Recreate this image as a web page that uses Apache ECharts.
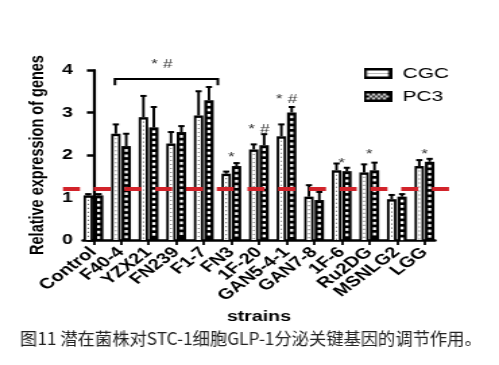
<!DOCTYPE html>
<html>
<head>
<meta charset="utf-8">
<script src="https://cdn.jsdelivr.net/npm/echarts@6/dist/echarts.min.js"></script>
<style>
html,body{margin:0;padding:0;background:#fff;}
#wrap{width:499px;height:365px;overflow:hidden;position:relative;}
#chart{width:370px;height:365px;transform-origin:0 0;}
</style>
</head>
<body>
<div id="wrap"><div id="chart"></div></div>
<script>
// ---- data ----
const categories = ['Control','F40-4','YZX21','FN239','F1-7','FN3','1F-20','GAN5-4-1','GAN7-8','1F-6','Ru2DG','MSNLG2','LGG'];
const cgcMean = [1.05, 2.50, 2.89, 2.27, 2.93, 1.56, 2.13, 2.44, 1.02, 1.64, 1.59, 0.96, 1.74];
const cgcErrTop = [1.08, 2.72, 3.39, 2.54, 3.50, 1.61, 2.25, 2.72, 1.29, 1.80, 1.78, 1.06, 1.88];
const pc3Mean = [1.05, 2.21, 2.65, 2.54, 3.29, 1.74, 2.23, 3.00, 0.94, 1.62, 1.64, 1.02, 1.84];
const pc3ErrTop = [1.08, 2.50, 3.13, 2.68, 3.60, 1.81, 2.49, 3.13, 1.13, 1.70, 1.82, 1.08, 1.91];
const threshold = 1.2;
const yTicks = [0, 1, 2, 3, 4];
const sigCats = [5, 6, 7, 9, 10, 12];
const sigTexts = ['*', '* #', '* #', '*', '*', '*'];
const sigHeights = [2.00, 2.64, 3.36, 1.86, 2.05, 2.07];
const bracketRange = [0.78, 4.51];
const bracketLevels = [3.79, 3.64];
const bracketText = '* #';
const bracketTextPos = [2.48, 4.18];
const caption = '图11 潜在菌株对STC-1细胞GLP-1分泌关键基因的调节作用。';

// ---- layout (chart drawn narrow, then stretched horizontally like the source figure) ----
const S = 499 / 370;
document.getElementById('chart').style.transform = 'scaleX(' + S + ')';
const FONT = '"Liberation Sans", Arial, sans-serif';
const catIdx = categories.map((_, i) => i);
const X_MIN = -0.38, X_MAX = 12.38;
const G_LEFT = 61.5, G_RIGHT = 47.5;
const PX_PER = (370 - G_LEFT - G_RIGHT) / (X_MAX - X_MIN);
// label grid: category bands aligned with the value axis positions
const L_LEFT = G_LEFT + (-0.5 - X_MIN) * PX_PER;
const L_RIGHT = G_RIGHT + (-0.5 + X_MAX - (categories.length - 1)) * PX_PER;

function makeIcon(pc3) {
  const cv = document.createElement('canvas');
  cv.width = 42; cv.height = 22;
  const ctx = cv.getContext('2d');
  ctx.fillStyle = '#000'; ctx.fillRect(0, 0, 42, 22);
  if (!pc3) {
    ctx.fillStyle = '#fff'; ctx.fillRect(5, 5, 32, 12);
    ctx.fillStyle = '#777';
    for (let x = 7; x < 36; x += 4) ctx.fillRect(x, 10, 2, 2);
  } else {
    ctx.fillStyle = '#fff';
    for (let r = 0; r < 3; r++) {
      for (let c = 0; c < 8; c++) {
        if ((r + c) % 2 === 0) ctx.fillRect(5 + c * 4, 5 + r * 4, 4, 4);
      }
    }
  }
  return 'image://' + cv.toDataURL();
}

function barRender(isPC3) {
  return function (params, api) {
    const i = api.value(0), v = api.value(1), e = api.value(2);
    const base = api.coord([i, 0]);
    const cx = base[0], baseY = base[1];
    const topY = api.coord([i, v])[1];
    const errY = api.coord([i, e])[1];
    const unit = api.size([1, 0])[0];
    const w = unit * 0.34, g = unit * 0.018;
    const x0 = isPC3 ? cx + g : cx - g - w;
    const bx = x0 + w / 2;
    const bv = 1.8, bt = 2.4;
    const ch = [];
    ch.push({type: 'rect', shape: {x: x0, y: topY, width: w, height: baseY - topY}, style: {fill: '#000'}});
    if (!isPC3) {
      ch.push({type: 'rect', shape: {x: x0 + bv, y: topY + bt, width: w - 2 * bv, height: baseY - topY - bt}, style: {fill: '#fff'}});
      for (let yy = topY + bt + 2; yy < baseY - 1; yy += 4) {
        ch.push({type: 'rect', shape: {x: bx - 0.45, y: yy, width: 0.9, height: 1.1}, style: {fill: '#555'}});
      }
    } else {
      for (let yy = topY + bt + 0.6; yy < baseY - 2.5; yy += 5.4) {
        ch.push({type: 'rect', shape: {x: bx - 1.15, y: yy, width: 2.3, height: 2.7}, style: {fill: '#fff'}});
      }
    }
    if (e > v) {
      ch.push({type: 'line', shape: {x1: bx, y1: topY, x2: bx, y2: errY}, style: {stroke: '#000', lineWidth: 1.9}});
      ch.push({type: 'line', shape: {x1: bx - 2.3, y1: errY, x2: bx + 2.3, y2: errY}, style: {stroke: '#000', lineWidth: 2}});
    }
    return {type: 'group', children: ch};
  };
}

const chart = echarts.init(document.getElementById('chart'), null, {renderer: 'canvas'});
chart.setOption({
  animation: false,
  backgroundColor: '#fff',
  grid: [
    {left: G_LEFT, right: G_RIGHT, top: 70, bottom: 125},
    {left: L_LEFT, right: L_RIGHT, top: 70, bottom: 125}
  ],
  legend: {
    orient: 'vertical', left: 264.5, top: 60, itemWidth: 21, itemHeight: 11, itemGap: 6,
    selectedMode: false,
    data: [{name: 'CGC', icon: makeIcon(false)}, {name: 'PC3', icon: makeIcon(true)}],
    textStyle: {fontSize: 15.5, fontFamily: FONT, color: '#000', lineHeight: 17, padding: [0, 0, 0, 3]}
  },
  xAxis: [{
    type: 'value', min: X_MIN, max: X_MAX, gridIndex: 0,
    axisLine: {show: true, onZero: false, lineStyle: {color: '#000', width: 2.5}},
    axisTick: {show: true, customValues: catIdx, length: 5, lineStyle: {color: '#000', width: 1.8}},
    axisLabel: {show: false},
    splitLine: {show: false},
    name: 'strains', nameLocation: 'middle', nameGap: 69,
    nameTextStyle: {fontWeight: 'bold', fontSize: 14.5, color: '#000', fontFamily: FONT}
  }, {
    type: 'category', gridIndex: 1, data: categories, boundaryGap: true,
    axisLine: {show: false}, axisTick: {show: false}, splitLine: {show: false},
    axisLabel: {interval: 0, rotate: 45, fontWeight: 'bold', fontSize: 15, color: '#000', margin: 10, fontFamily: FONT}
  }],
  yAxis: [{
    type: 'value', min: yTicks[0], max: yTicks[yTicks.length - 1], interval: 1, gridIndex: 0,
    axisLine: {show: true, lineStyle: {color: '#000', width: 2.2}},
    axisTick: {show: true, length: 4.8, lineStyle: {color: '#000', width: 2.5}},
    axisLabel: {fontWeight: 'bold', fontSize: 14.5, color: '#000', margin: 7.5, fontFamily: FONT},
    splitLine: {show: false},
    name: 'Relative expression of genes', nameLocation: 'middle', nameGap: 11,
    nameTextStyle: {fontWeight: 'bold', fontSize: 14.5, color: '#000', fontFamily: FONT}
  }, {
    type: 'value', gridIndex: 1, show: false, min: 0, max: 4
  }],
  series: [
    {
      name: 'CGC', type: 'custom', clip: false, z: 2,
      renderItem: barRender(false),
      encode: {x: 0, y: 1},
      data: categories.map((_, i) => [i, cgcMean[i], cgcErrTop[i]])
    },
    {
      name: 'PC3', type: 'custom', clip: false, z: 2,
      renderItem: barRender(true),
      encode: {x: 0, y: 1},
      data: categories.map((_, i) => [i, pc3Mean[i], pc3ErrTop[i]])
    },
    {
      name: 'threshold', type: 'custom', clip: false, z: 5, silent: true,
      renderItem: function (params, api) {
        const y = api.coord([0, api.value(1)])[1];
        const cs = params.coordSys;
        return {type: 'line', shape: {x1: cs.x - 14.8, y1: y, x2: cs.x + cs.width + 11.2, y2: y},
          style: {stroke: '#d2232a', lineWidth: 4, lineDash: [12.6, 10.2]}};
      },
      data: [[0, threshold]]
    },
    {
      name: 'bracket', type: 'custom', clip: false, z: 4, silent: true,
      renderItem: function (params, api) {
        const a = api.coord([api.value(0), api.value(2)]);
        const b = api.coord([api.value(1), api.value(3)]);
        const c = api.coord([api.value(0), api.value(3)]);
        const d = api.coord([api.value(1), api.value(2)]);
        return {type: 'polyline', shape: {points: [c, a, d, b]},
          style: {stroke: '#000', lineWidth: 2, fill: null}};
      },
      data: [[bracketRange[0], bracketRange[1], bracketLevels[0], bracketLevels[1]]]
    },
    {
      name: 'sig', type: 'scatter', symbolSize: 0, silent: true, z: 6, clip: false,
      data: sigCats.map((c, k) => [c, sigHeights[k]]).concat([bracketTextPos]),
      label: {
        show: true, position: 'inside', offset: [0, 2],
        formatter: p => p.dataIndex < sigTexts.length ? sigTexts[p.dataIndex] : bracketText,
        fontSize: 13, color: '#000', fontFamily: FONT
      }
    }
  ],
  graphic: [{
    type: 'text', x: 20 / S, y: 338, scaleX: 1 / S,
    style: {text: caption, fontSize: 17.3, fontFamily: '"Noto Sans CJK SC", sans-serif', fill: '#222', verticalAlign: 'middle'}
  }]
});
</script>
</body>
</html>
